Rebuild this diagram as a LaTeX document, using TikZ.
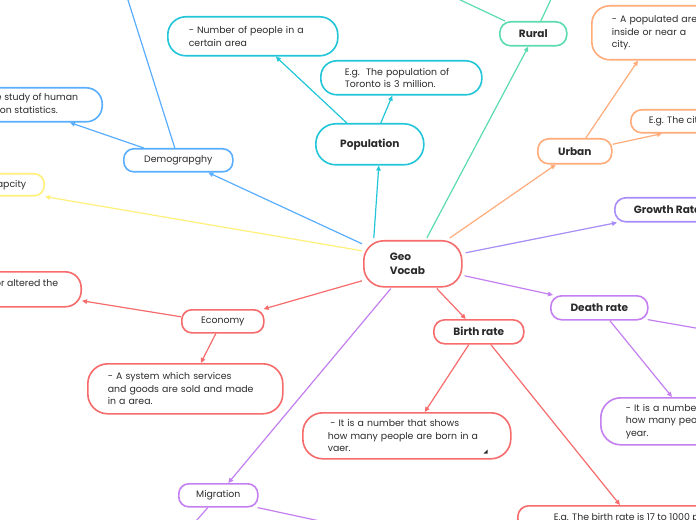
\documentclass[tikz,border=0pt]{standalone}
\usepackage{fontspec}
\setmainfont{Poppins}
\usetikzlibrary{arrows.meta}
\definecolor{cred}{HTML}{F66B6B}
\definecolor{cteal}{HTML}{22C6D8}
\definecolor{cgreen}{HTML}{5BDCAE}
\definecolor{corange}{HTML}{FFAC7A}
\definecolor{cblue}{HTML}{5AAEFF}
\definecolor{cyellow}{HTML}{FFF07A}
\definecolor{cpurpa}{HTML}{A88CF8}
\definecolor{cpurpb}{HTML}{C47FF0}
\definecolor{ctext}{HTML}{2B2B2B}
\begin{document}
\begin{tikzpicture}[x=1bp,y=-1bp,
  box/.style={draw=#1, fill=white, line width=1.6bp, text=ctext, inner ysep=0pt, align=left},
  bx/.style={font=\fontsize{9.4}{12.4}\selectfont},
  bb/.style={font=\fontsize{10.6}{14}\selectfont\bfseries},
  conn/.style={draw=#1, line width=1.2bp, -{Triangle[length=5bp,width=4.5bp]}},
  plain/.style={draw=#1, line width=1.2bp}]
\clip (0,0) rectangle (696,520);
\fill[white] (0,0) rectangle (696,520);

% central
\node[box=cred, bb, anchor=north west, rounded corners=20bp, minimum height=46bp, inner xsep=26bp, text width=46bp] (geo) at (363,240) {Geo\\Vocab};

% population branch
\node[box=cteal, bb, anchor=north west, rounded corners=20bp, minimum height=41bp, minimum width=108bp, align=center] (pop) at (315,123) {Population};
\node[box=cteal, bx, anchor=north west, rounded corners=18bp, minimum height=39bp, inner xsep=21bp, text width=128bp] (num) at (167,16) {- Number of people in a\\certain area};
\node[box=cteal, bx, anchor=north west, rounded corners=16bp, minimum height=34bp, inner xsep=24bp, text width=113bp] (eg) at (320,60) {E.g.\ \ The population of\\Toronto is 3 million.};

% rural
\node[box=cgreen, bb, anchor=north west, rounded corners=11bp, minimum height=24bp, minimum width=67bp, align=center] (rural) at (499,21) {Rural};
\coordinate (ruralA) at (420,-19);
\coordinate (ruralB) at (561,-22);

% urban
\node[box=corange, bb, anchor=north west, rounded corners=11bp, minimum height=25bp, minimum width=74bp, align=center] (urban) at (537,138) {Urban};
\node[box=corange, bx, anchor=north west, rounded corners=18bp, minimum height=54bp, inner xsep=20bp, text width=130bp] (popd) at (591,5) {- A populated area\\inside or near a\\city.};
\node[box=corange, bx, anchor=north west, rounded corners=11bp, minimum height=23bp, inner xsep=18bp] (ecity) at (630,109) {E.g. The city of Toronto is urban.};

% growth / death
\node[box=cpurpa, bb, anchor=north west, rounded corners=11bp, minimum height=24bp, inner xsep=19bp] (growth) at (614,197) {Growth Rate};
\node[box=cpurpb, bb, anchor=north west, rounded corners=11bp, minimum height=24bp, minimum width=97bp, align=center] (death) at (550,295) {Death rate};
\node[box=cpurpb, bx, anchor=north west, rounded corners=20bp, minimum height=47bp, inner xsep=25bp, text width=150bp] (dbox) at (600,397) {- It is a number that shows\\how many people die in a\\year.};
\coordinate (deathR) at (730,334);

% birth
\node[box=cred, bb, anchor=north west, rounded corners=11bp, minimum height=24bp, minimum width=90bp, align=center] (birth) at (433,319) {Birth rate};
\node[box=cred, bx, anchor=north west, rounded corners=20bp, minimum height=46bp, inner xsep=25bp, text width=158bp] (bbox) at (302,412) {\hspace*{2.5bp}- It is a number that shows\\how many people are born in a\\vaer.};
\fill[ctext] ([xshift=-24bp,yshift=10bp]bbox.south east) -- ++(0,4) -- ++(-4,0) -- cycle;
\node[box=cred, bx, anchor=north west, rounded corners=11bp, minimum height=24bp, inner xsep=36bp] (beg) at (517,505) {E.g. The birth rate is 17 to 1000 people.};

% economy
\node[box=cred, bx, anchor=north west, rounded corners=10bp, minimum height=23bp, minimum width=82bp, align=center] (econ) at (181,309) {Economy};
\node[box=cred, bx, anchor=north west, rounded corners=20bp, minimum height=50bp, inner xsep=20bp, text width=155bp] (ebox) at (87,363) {- A system which services\\and goods are sold and made\\in a area.};
\node[box=cred, bx, anchor=north east, rounded corners=16bp, minimum height=35bp, inner xsep=23bp] (alt) at (82,271) {- The ways that humans have used or altered the\\land.};

% carrying capacity
\node[box=cyellow, bx, anchor=north east, rounded corners=10bp, minimum height=22bp, inner xsep=18bp] (cap) at (45,173) {Carrying Capcity};

% demography
\node[box=cblue, bx, anchor=north west, rounded corners=10bp, minimum height=23bp, minimum width=109bp, align=center] (demo) at (123,148) {Demograpghy};
\node[box=cblue, bx, anchor=north east, rounded corners=16bp, minimum height=34bp, inner xsep=24bp] (study) at (103,87) {- It is the study of human\\population statistics.};
\coordinate (demoUp) at (121,-22);

% migration
\node[box=cpurpb, bx, anchor=north west, rounded corners=10bp, minimum height=23bp, minimum width=79bp, align=center] (mig) at (178,483) {Migration};
\coordinate (migL) at (183,536);
\coordinate (migR) at (380,534);

% connectors from centre
\path[conn=cteal] ([xshift=-39bp,yshift=2bp]geo.north) -- ([xshift=9bp]pop.south);
\path[conn=cgreen] ([xshift=14bp,yshift=2bp]geo.north) -- ([xshift=-5bp]rural.south);
\path[conn=corange] ([xshift=37bp,yshift=2bp]geo.north) -- ([xshift=-19bp]urban.south);
\path[conn=cpurpa] ([xshift=3bp,yshift=11bp]geo.east) -- ([xshift=3bp]growth.south west);
\path[conn=cpurpb] ([xshift=2bp,yshift=-12bp]geo.east) -- ([xshift=3bp]death.north west);
\path[conn=cred] ([xshift=24bp,yshift=-1bp]geo.south) -- ([xshift=-13bp]birth.north);
\path[conn=cpurpb] ([xshift=-22bp,yshift=-1bp]geo.south) -- ([xshift=10bp]mig.north);
\path[conn=cred] ([xshift=-1bp,yshift=-17bp]geo.west) -- ([xshift=-1bp]econ.north east);
\path[conn=cyellow] ([xshift=-1bp,yshift=13bp]geo.west) -- (cap.south east);
\path[conn=cblue] ([xshift=-1bp,yshift=20bp]geo.west) -- ([xshift=30bp]demo.south);

% population children
\path[conn=cteal] ([xshift=-23bp]pop.north) -- ([xshift=23bp]num.south);
\path[conn=cteal] ([xshift=11bp]pop.north) -- ([xshift=-9bp]eg.south);
% rural upwards
\path[plain=cgreen] ([xshift=6bp]rural.north west) -- (ruralA);
\path[plain=cgreen] ([xshift=7.5bp]rural.north) -- (ruralB);
% urban children
\path[conn=corange] ([xshift=11bp]urban.north) -- ([xshift=47bp]popd.south west);
\path[conn=corange] ([yshift=7bp]urban.east) -- ([xshift=32bp]ecity.south west);
% death children
\path[conn=cpurpb] ([xshift=10.5bp]death.south) -- ([xshift=72bp]dbox.north west);
\path[plain=cpurpb] ([xshift=-1bp,yshift=1bp]death.south east) -- (deathR);
% birth children
\path[conn=cred] ([xshift=-10bp]birth.south) -- ([xshift=18bp]bbox.north);
\path[conn=cred] ([xshift=12bp]birth.south) -- ([xshift=103bp]beg.north west);
% economy children
\path[conn=cred] ([xshift=-7bp]econ.south) -- ([xshift=15.5bp]ebox.north);
\path[conn=cred] ([yshift=4.5bp]econ.west) -- ([yshift=-11.5bp]alt.east);
% demography children
\path[conn=cblue] ([xshift=-34.5bp]demo.north) -- ([xshift=-33bp]study.south east);
\path[plain=cblue] ([xshift=-3.5bp]demo.north) -- (demoUp);
% migration children
\path[plain=cpurpb] ([xshift=-10.5bp]mig.south) -- (migL);
\path[plain=cpurpb] ([xshift=-1bp]mig.south east) -- (migR);
\end{tikzpicture}
\end{document}
